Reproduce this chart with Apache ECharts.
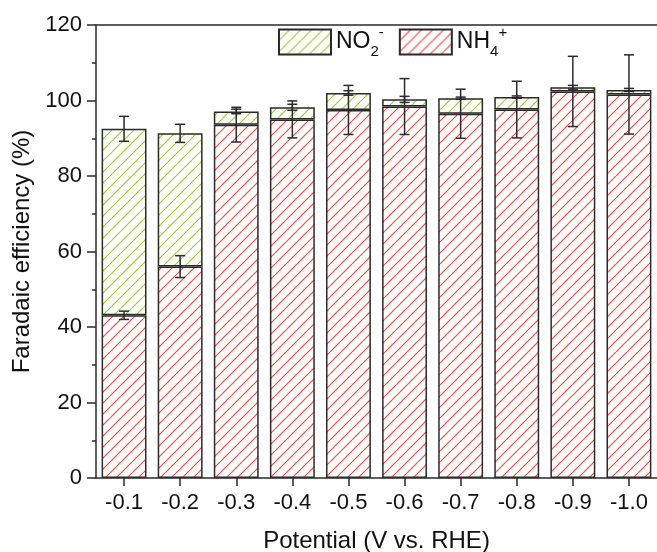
<!DOCTYPE html>
<html><head><meta charset="utf-8">
<script src="https://cdn.jsdelivr.net/npm/echarts@6/dist/echarts.min.js"></script>
<style>html,body{margin:0;padding:0;background:#fff}#c{width:657px;height:552px}</style>
</head><body><div id="c"></div>
<script>
const categories = ['-0.1','-0.2','-0.3','-0.4','-0.5','-0.6','-0.7','-0.8','-0.9','-1.0'];
const nh4 = [43.1, 56.0, 93.6, 95.0, 97.5, 98.4, 96.5, 97.6, 102.4, 101.6];
const no2 = [49.4, 35.3, 3.5, 3.2, 4.5, 1.9, 4.1, 3.3, 1.1, 1.2];
const nh4Err = [1.1, 2.9, 4.6, 4.9, 6.5, 7.4, 6.5, 7.5, 9.3, 10.5];
const totalErr = [3.3, 2.4, 0.6, 0.8, 0.6, 0.8, 0.3, 0.3, 0.5, 0.4];

const FONT = 'Liberation Sans, Arial, sans-serif';
const RED = '#ef4b46', GREEN = '#9dcc3a', EDGE = '#2a2a2a';

function hatch(color){
  const s = 11;
  const cv = document.createElement('canvas');
  cv.width = s; cv.height = s;
  const ctx = cv.getContext('2d');
  ctx.fillStyle = '#fff'; ctx.fillRect(0,0,s,s);
  ctx.strokeStyle = color; ctx.lineWidth = 1.2;
  for (const o of [-s, 0, s]) {
    ctx.beginPath(); ctx.moveTo(o, s); ctx.lineTo(o + s, 0); ctx.stroke();
  }
  return {image: cv, repeat: 'repeat'};
}

const nh4ErrData = nh4.map((v,i)=>[i, v, nh4Err[i]]);
const totErrData = nh4.map((v,i)=>[i, v + no2[i], totalErr[i]]);

function errRender(params, api){
  const i = api.value(0), c = api.value(1), e = api.value(2);
  const t = api.coord([i, c + e]), b = api.coord([i, c - e]);
  const hw = 5;
  const st = {stroke: EDGE, lineWidth: 1.5};
  return {type:'group', children:[
    {type:'line', shape:{x1:t[0], y1:t[1], x2:b[0], y2:b[1]}, style: st},
    {type:'line', shape:{x1:t[0]-hw, y1:t[1], x2:t[0]+hw, y2:t[1]}, style: st},
    {type:'line', shape:{x1:b[0]-hw, y1:b[1], x2:b[0]+hw, y2:b[1]}, style: st}
  ]};
}

const chart = echarts.init(document.getElementById('c'), null, {renderer:'canvas'});
chart.setOption({
  animation: false,
  backgroundColor: '#fff',
  textStyle: {fontFamily: FONT},
  grid: {left: 96, right: 0, top: 25, bottom: 74, containLabel: false, outerBoundsMode: 'none'},
  legend: {
    data: ['NO2', 'NH4'],
    left: 273, top: 20,
    icon: 'rect', itemWidth: 52, itemHeight: 25, itemGap: 15,
    textStyle: {
      fontFamily: FONT, fontSize: 23, color: '#111',
      rich: {
        b: {fontFamily: FONT, fontSize: 23, color: '#111', lineHeight: 34},
        sub: {fontFamily: FONT, fontSize: 15, color: '#111', verticalAlign: 'bottom', lineHeight: 34},
        sup: {fontFamily: FONT, fontSize: 15, color: '#111', verticalAlign: 'top', lineHeight: 34}
      }
    },
    formatter: n => n === 'NO2' ? '{b|NO}{sub|2}{sup|-}' : '{b|NH}{sub|4}{sup|+}'
  },
  xAxis: [{
    type: 'category', data: categories, boundaryGap: true,
    name: 'Potential (V vs. RHE)', nameLocation: 'middle', nameGap: 51,
    nameTextStyle: {fontFamily: FONT, fontSize: 24, color: '#111'},
    axisLine: {show: true, lineStyle: {color: EDGE, width: 1.5}},
    axisTick: {show: true, alignWithLabel: true, length: 8, inside: false, lineStyle: {color: EDGE, width: 1.5}},
    axisLabel: {fontFamily: FONT, fontSize: 22, color: '#111', margin: 14},
    splitLine: {show: false}
  }, {
    type: 'category', data: categories, position: 'top',
    axisLine: {show: true, lineStyle: {color: EDGE, width: 1.5}},
    axisTick: {show: false}, axisLabel: {show: false}, splitLine: {show: false}
  }],
  yAxis: {
    type: 'value', min: 0, max: 120, interval: 20,
    name: 'Faradaic efficiency (%)', nameLocation: 'middle', nameGap: 54,
    nameTextStyle: {fontFamily: FONT, fontSize: 24, color: '#111'},
    axisLine: {show: true, lineStyle: {color: EDGE, width: 1.5}},
    axisTick: {show: true, length: 9, lineStyle: {color: EDGE, width: 1.5}},
    minorTick: {show: true, splitNumber: 2, length: 4, lineStyle: {color: EDGE, width: 1.5}},
    axisLabel: {fontFamily: FONT, fontSize: 22, color: '#111', margin: 14},
    splitLine: {show: false}
  },
  series: [
    {name: 'NH4', type: 'bar', stack: 'fe', data: nh4, barWidth: '80%',
     itemStyle: {color: hatch(RED), borderColor: EDGE, borderWidth: 1.5}},
    {name: 'NO2', type: 'bar', stack: 'fe', data: no2, barWidth: '80%',
     itemStyle: {color: hatch(GREEN), borderColor: EDGE, borderWidth: 1.5}},
    {type: 'custom', data: nh4ErrData, renderItem: errRender, encode: {x: 0, y: 1}, z: 5},
    {type: 'custom', data: totErrData, renderItem: errRender, encode: {x: 0, y: 1}, z: 5}
  ]
});
</script></body></html>
